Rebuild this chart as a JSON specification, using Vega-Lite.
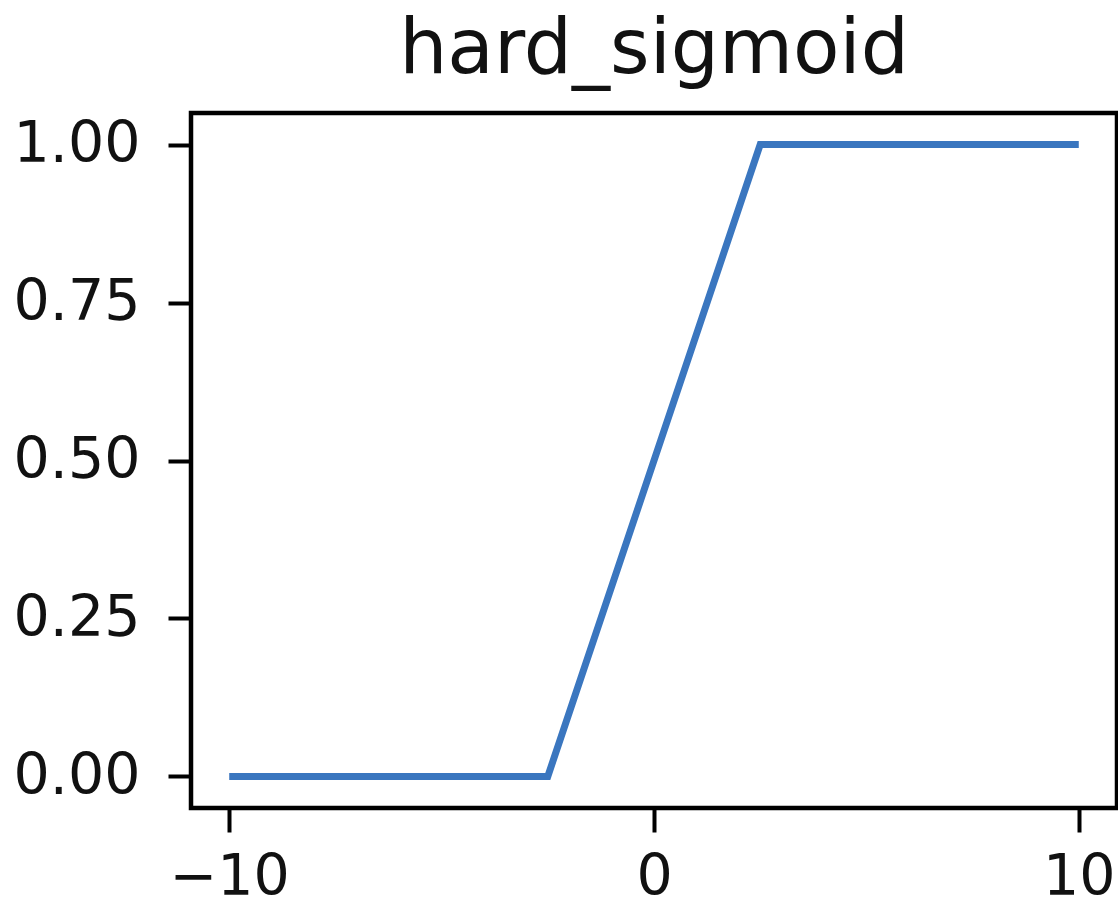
{
  "$schema": "https://vega.github.io/schema/vega-lite/v6.json",
  "width": 926,
  "height": 695,
  "autosize": "none",
  "padding": {"left": 191, "top": 113, "right": 1, "bottom": 99},
  "background": "white",
  "config": {
    "view": {"stroke": "black", "strokeWidth": 4.5},
    "font": "DejaVu Sans"
  },
  "title": {
    "text": "hard_sigmoid",
    "font": "DejaVu Sans",
    "fontSize": 76,
    "fontWeight": "normal",
    "color": "#111111",
    "baseline": "alphabetic",
    "offset": 38,
    "dy": 74,
    "anchor": "middle"
  },
  "data": {
    "values": [
      {"x": -10, "y": 0},
      {"x": -2.5, "y": 0},
      {"x": 2.5, "y": 1},
      {"x": 10, "y": 1}
    ]
  },
  "mark": {"type": "line", "color": "#3a76bf", "strokeWidth": 7, "strokeCap": "butt", "strokeJoin": "miter"},
  "encoding": {
    "x": {
      "field": "x",
      "type": "quantitative",
      "scale": {"domain": [-10.9, 10.9], "nice": false, "zero": false},
      "axis": {
        "title": null,
        "values": [-10, 0, 10],
        "format": "d",
        "grid": false,
        "domain": false,
        "ticks": true,
        "tickSize": 24,
        "tickWidth": 4,
        "tickColor": "black",
        "labelFont": "DejaVu Sans",
        "labelFontSize": 57,
        "labelColor": "#111111",
        "labelPadding": 17,
        "labelFlush": false,
        "labelOverlap": false
      }
    },
    "y": {
      "field": "y",
      "type": "quantitative",
      "scale": {"domain": [-0.05, 1.05], "nice": false, "zero": false},
      "axis": {
        "title": null,
        "values": [0, 0.25, 0.5, 0.75, 1],
        "format": ".2f",
        "grid": false,
        "domain": false,
        "ticks": true,
        "tickSize": 23,
        "tickWidth": 4,
        "tickColor": "black",
        "labelFont": "DejaVu Sans",
        "labelFontSize": 57,
        "labelColor": "#111111",
        "labelPadding": 28,
        "labelFlush": false,
        "labelOverlap": false
      }
    }
  }
}
